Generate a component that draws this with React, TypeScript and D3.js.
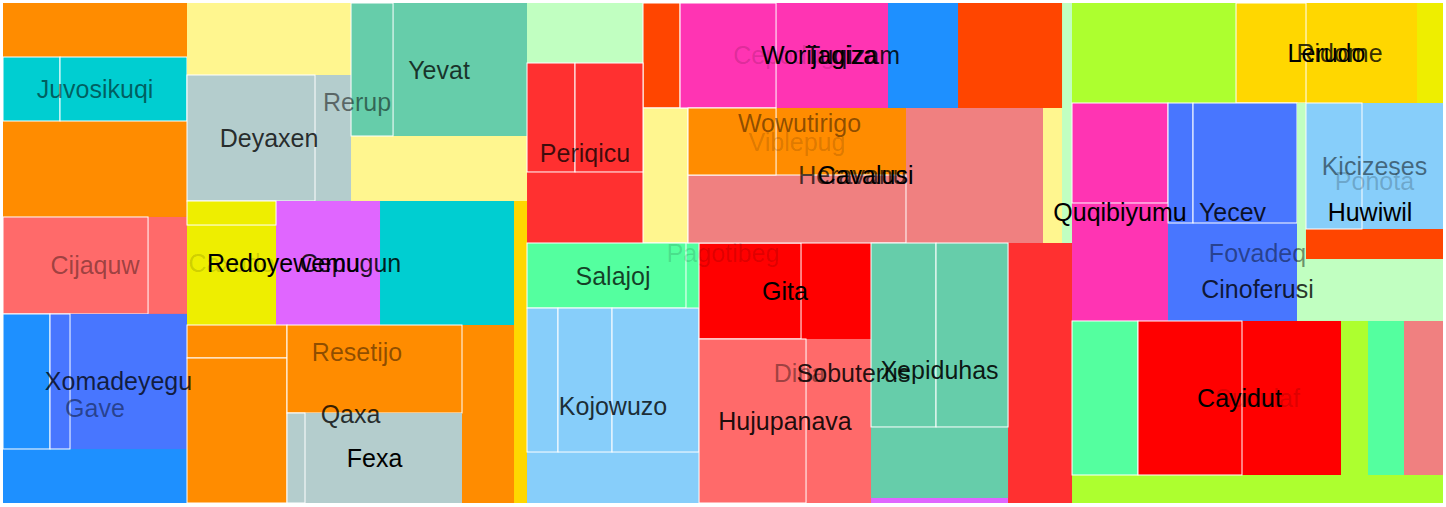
import { useMemo } from "react";
import * as d3 from "d3";

const WIDTH = 1446;
const HEIGHT = 507;
const margin = { left: 3, top: 3, right: 3, bottom: 4 };

// [id, parent, own value] - a node's own value is the space it keeps for itself after its children
const columnA: [string, string, number][] = [
  ["A", "Pagotibeg", 0],
  ["a.top", "A", 99.4],
  ["Juvosikuqi", "A", 0],
  ["juv.1", "Juvosikuqi", 36.5],
  ["juv.2", "Juvosikuqi", 81.3],
  ["a.mid", "A", 176.6],
  ["Cijaquw", "A", 37.8],
  ["cij.1", "Cijaquw", 140.7],
  ["Gave", "A", 99.4],
  ["gave.row", "Gave", 0],
  ["gave.1", "gave.row", 63.5],
  ["Xomadeyegu", "gave.row", 158.0],
  ["xom.1", "Xomadeyegu", 27.0],
];

const columnB: [string, string, number][] = [
  ["B", "Pagotibeg", 0],
  ["Rerup", "B", 0],
  ["b.left", "Rerup", 0],
  ["b.cap", "b.left", 118.1],
  ["Deyaxen", "b.left", 45.4],
  ["dey.1", "Deyaxen", 161.3],
  ["b.right", "Rerup", 114.4],
  ["Yevat", "b.right", 178.2],
  ["yev.1", "Yevat", 55.9],
  ["Resetijo", "B", 39.3],
  ["b.bot", "Resetijo", 0],
  ["Cepugun", "b.bot", 166.2],
  ["Redoyewemu", "Cepugun", 129.0],
  ["Caxudo", "Redoyewemu", 89.0],
  ["ca.1", "Caxudo", 21.4],
  ["Qaxa", "b.bot", 92.6],
  ["qaxa.left", "Qaxa", 0],
  ["qx.1", "qaxa.left", 33.0],
  ["qx.2", "qaxa.left", 145.0],
  ["qaxa.mid", "Qaxa", 0],
  ["qx.3", "qaxa.mid", 154.0],
  ["Fexa", "qaxa.mid", 141.3],
  ["fexa.1", "Fexa", 16.2],
];

const columnC: [string, string, number][] = [
  ["C", "Pagotibeg", 0],
  ["Wowutirigo", "C", 24.0],
  ["c.left", "Wowutirigo", 0],
  ["c.cap", "c.left", 69.6],
  ["Periqicu", "c.left", 82.4],
  ["peri.row", "Periqicu", 0],
  ["per.1", "peri.row", 52.3],
  ["per.2", "peri.row", 74.1],
  ["c.right", "Wowutirigo", 0],
  ["Tuqizam", "c.right", 109.2],
  ["tq.1", "Tuqizam", 38.9],
  ["Worijagiza", "Tuqizam", 73.5],
  ["Cepodug", "Worijagiza", 117.6],
  ["ce.1", "Cepodug", 100.8],
  ["Heravanu", "c.right", 25.7],
  ["hv.1", "Heravanu", 60.8],
  ["Cavalusi", "Heravanu", 185.0],
  ["cav.col", "Cavalusi", 0],
  ["Viblepug", "cav.col", 87.1],
  ["vib.1", "Viblepug", 59.0],
  ["cav.1", "cav.col", 148.2],
  ["Dina", "C", 166.4],
  ["c.botleft", "Dina", 0],
  ["Salajoj", "c.botleft", 8.5],
  ["sal.1", "Salajoj", 103.4],
  ["Kojowuzo", "c.botleft", 87.7],
  ["koj.row", "Kojowuzo", 0],
  ["koj.1", "koj.row", 44.6],
  ["koj.2", "koj.row", 77.8],
  ["koj.3", "koj.row", 125.3],
  ["Sobuterus", "Dina", 0],
  ["sob.left", "Sobuterus", 0],
  ["Gita", "sob.left", 67.2],
  ["gita.1", "Gita", 97.9],
  ["Hujupanava", "sob.left", 106.6],
  ["huj.1", "Hujupanava", 175.5],
  ["sob.right", "Sobuterus", 6.9],
  ["Xepiduhas", "sob.right", 97.3],
  ["xep.row", "Xepiduhas", 0],
  ["xep.1", "xep.row", 119.6],
  ["xep.2", "xep.row", 132.5],
];

const columnD: [string, string, number][] = [
  ["Fovadeq", "Pagotibeg", 103.9],
  ["d.top", "Fovadeq", 0],
  ["d.cap", "d.top", 164.0],
  ["Ridome", "d.top", 26.0],
  ["Lerudo", "Ridome", 111.0],
  ["le.1", "Lerudo", 70.0],
  ["Cinoferusi", "Fovadeq", 0],
  ["d.mid", "Cinoferusi", 0],
  ["Quqibiyumu", "d.mid", 113.3],
  ["quq.1", "Quqibiyumu", 96.0],
  ["Yecev", "d.mid", 126.4],
  ["yec.row", "Yecev", 0],
  ["yec.1", "yec.row", 30.0],
  ["yec.2", "yec.row", 124.8],
  ["Huwiwil", "d.mid", 90.5],
  ["hw.top", "Huwiwil", 0],
  ["hw.cap", "hw.top", 14.0],
  ["Ponota", "hw.top", 41.1],
  ["Kicizeses", "Ponota", 102.1],
  ["kic.1", "Kicizeses", 70.6],
  ["Sudulaf", "Cinoferusi", 60.1],
  ["sud.in", "Sudulaf", 55.4],
  ["sud.core", "sud.in", 41.6],
  ["sud.1", "sud.core", 101.6],
  ["Cayidut", "sud.core", 152.5],
  ["cay.1", "Cayidut", 160.2],
];

// nodes whose children sit side by side; every other node stacks them
const sideBySide = [
  "Pagotibeg", "Juvosikuqi", "Cijaquw", "gave.row", "Xomadeyegu",
  "Rerup", "Deyaxen", "Yevat", "Resetijo", "Cepugun", "Redoyewemu", "Qaxa", "Fexa",
  "Wowutirigo", "peri.row", "Tuqizam", "Worijagiza", "Cepodug", "Heravanu", "Cavalusi", "Viblepug",
  "Dina", "Salajoj", "koj.row", "Sobuterus", "Gita", "Hujupanava", "xep.row",
  "d.top", "Ridome", "Lerudo", "d.mid", "yec.row", "hw.top", "Kicizeses",
  "Sudulaf", "sud.in", "sud.core", "Cayidut",
];

// filler leaves drawn without an outline
const plainLeaves = ["a.top", "a.mid", "b.cap", "c.cap", "d.cap", "hw.cap"];

// fills; a node without one takes its parent's
const fills: Record<string, string> = {
  A: "#FF8C00", Juvosikuqi: "#00CED1", Cijaquw: "#FF6A6A", Gave: "#1E90FF", Xomadeyegu: "#4876FF",
  Rerup: "#FFF68F", Deyaxen: "#B4CDCD", Yevat: "#66CDAA", Resetijo: "#FFD700", Cepugun: "#00CED1",
  Redoyewemu: "#E066FF", Caxudo: "#EEEE00", Qaxa: "#FF8C00", Fexa: "#B4CDCD",
  Wowutirigo: "#C1FFC1", Periqicu: "#FF3030", Tuqizam: "#FF4500", Worijagiza: "#1E90FF",
  Cepodug: "#FF34B3", Heravanu: "#FFF68F", Cavalusi: "#F08080", Viblepug: "#FF8C00",
  Dina: "#FF3030", Salajoj: "#54FF9F", Kojowuzo: "#87CEFA", Gita: "#FF0000", Hujupanava: "#FF6A6A",
  "sob.right": "#E066FF", Xepiduhas: "#66CDAA",
  Fovadeq: "#ADFF2F", Ridome: "#EEEE00", Lerudo: "#FFD700", Quqibiyumu: "#FF34B3", Yecev: "#4876FF",
  Huwiwil: "#C1FFC1", Ponota: "#FF4500", Kicizeses: "#87CEFA", Sudulaf: "#F08080",
  "sud.in": "#54FF9F", "sud.core": "#ADFF2F", "sud.1": "#54FF9F", Cayidut: "#FF0000",
};

// labelled nodes and the opacity of their label
const labelOpacity: Record<string, number> = {
  Pagotibeg: 0.13, Juvosikuqi: 0.55, Cijaquw: 0.4, Gave: 0.45, Xomadeyegu: 0.75,
  Rerup: 0.5, Deyaxen: 0.8, Yevat: 0.75, Resetijo: 0.45, Cepugun: 0.85, Redoyewemu: 1,
  Caxudo: 0.15, Qaxa: 0.8, Fexa: 1,
  Wowutirigo: 0.45, Periqicu: 0.75, Tuqizam: 0.85, Worijagiza: 1, Cepodug: 0.15,
  Heravanu: 0.7, Cavalusi: 1, Viblepug: 0.15, Dina: 0.4, Salajoj: 0.75, Kojowuzo: 0.8,
  Sobuterus: 0.85, Gita: 1, Hujupanava: 0.9, Xepiduhas: 0.9,
  Fovadeq: 0.45, Ridome: 0.8, Lerudo: 1, Cinoferusi: 0.8, Quqibiyumu: 1, Yecev: 0.85,
  Huwiwil: 1, Ponota: 0.2, Kicizeses: 0.5, Sudulaf: 0.15, Cayidut: 1,
};

type Row = { id: string; parent: string | null; value: number };

export default function App() {
  const innerW = WIDTH - margin.left - margin.right;
  const innerH = HEIGHT - margin.top - margin.bottom;

  const nodes = useMemo(() => {
    const rows: Row[] = [{ id: "Pagotibeg", parent: null, value: 0 }];
    [columnA, columnB, columnC, columnD].forEach(col =>
      col.forEach(([id, parent, value]) => rows.push({ id, parent, value }))
    );

    const root = d3.stratify<Row>()
      .id(d => d.id)
      .parentId(d => d.parent)(rows)
      .sum(d => d.value);

    const dice = new Set(sideBySide);
    const tile = (node: any, x0: number, y0: number, x1: number, y1: number) => {
      if (dice.has(node.id)) d3.treemapDice(node, x0, y0, x1, y1);
      else d3.treemapSlice(node, x0, y0, x1, y1);
    };

    return d3.treemap<Row>().size([innerW, innerH]).tile(tile)(root).descendants();
  }, [innerW, innerH]);

  const fillOf = (n: any): string => {
    let cur = n;
    while (cur) {
      if (fills[cur.id]) return fills[cur.id];
      cur = cur.parent;
    }
    return "#cccccc";
  };

  const plain = new Set(plainLeaves);

  return (
    <svg width={WIDTH} height={HEIGHT} style={{ position: "absolute", left: 0, top: 0 }}>
      <g transform={`translate(${margin.left},${margin.top})`}>
        {nodes.map((n: any) => {
          const leaf = !n.children;
          const outlined = leaf && !plain.has(n.id);
          return (
            <rect
              key={n.id}
              x={n.x0}
              y={n.y0}
              width={n.x1 - n.x0}
              height={n.y1 - n.y0}
              fill={fillOf(n)}
              stroke={outlined ? "#ffffff" : "none"}
              strokeWidth={1}
            />
          );
        })}
        {nodes
          .filter((n: any) => labelOpacity[n.id] !== undefined)
          .map((n: any) => (
            <text
              key={"t" + n.id}
              x={(n.x0 + n.x1) / 2}
              y={(n.y0 + n.y1) / 2}
              textAnchor="middle"
              dominantBaseline="central"
              fontFamily="Liberation Sans, Arial, sans-serif"
              fontSize={25}
              fill="#000000"
              fillOpacity={labelOpacity[n.id]}
            >
              {n.id}
            </text>
          ))}
      </g>
    </svg>
  );
}
